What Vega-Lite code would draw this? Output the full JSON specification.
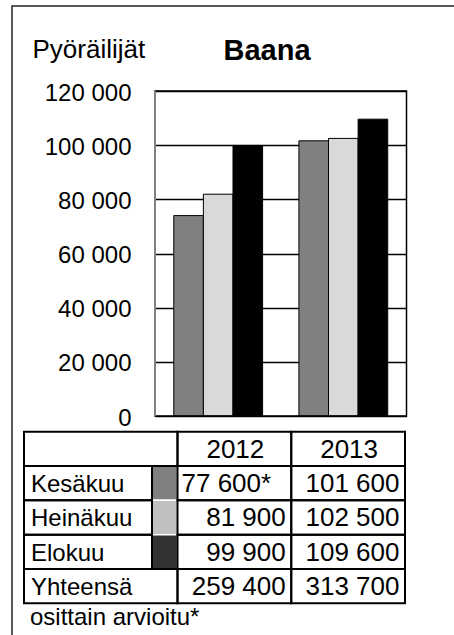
{
  "$schema": "https://vega.github.io/schema/vega-lite/v6.json",
  "width": 442,
  "height": 629,
  "autosize": {"type": "none"},
  "padding": {"left": 12, "top": 6, "right": 0, "bottom": 0},
  "background": "white",
  "title": {"text": "Baana", "anchor": "middle", "frame": "group", "offset": 0, "dx": 34, "dy": 84, "baseline": "alphabetic", "fontSize": 29, "fontWeight": "bold", "color": "black", "font": "Liberation Sans"},
  "datasets": {
    "bars": [
      {"year": "2012", "month": "Kesäkuu", "value": 74000},
      {"year": "2012", "month": "Heinäkuu", "value": 81900},
      {"year": "2012", "month": "Elokuu", "value": 99900},
      {"year": "2013", "month": "Kesäkuu", "value": 101600},
      {"year": "2013", "month": "Heinäkuu", "value": 102500},
      {"year": "2013", "month": "Elokuu", "value": 109600}
    ],
    "rows": [{"row": "head"}, {"row": "Kesäkuu"}, {"row": "Heinäkuu"}, {"row": "Elokuu"}, {"row": "Yhteensä"}],
    "cells": [
      {"row": "head", "year": "2012", "text": "2012"},
      {"row": "head", "year": "2013", "text": "2013"},
      {"row": "Kesäkuu", "year": "2012", "text": "77 600*"},
      {"row": "Kesäkuu", "year": "2013", "text": "101 600"},
      {"row": "Heinäkuu", "year": "2012", "text": "81 900"},
      {"row": "Heinäkuu", "year": "2013", "text": "102 500"},
      {"row": "Elokuu", "year": "2012", "text": "99 900"},
      {"row": "Elokuu", "year": "2013", "text": "109 600"},
      {"row": "Yhteensä", "year": "2012", "text": "259 400"},
      {"row": "Yhteensä", "year": "2013", "text": "313 700"}
    ],
    "notes": [{"row": "note", "text": "osittain arvioitu*"}],
    "frame": [{"id": 1}]
  },
  "layer": [
    {
      "data": {"name": "frame"},
      "mark": {"type": "rect", "filled": false, "stroke": "#222222", "strokeWidth": 1.5},
      "encoding": {
        "x": {"datum": 0, "type": "quantitative", "scale": {"domain": [0, 1], "range": [0, 470], "nice": false}, "axis": null},
        "x2": {"datum": 1},
        "y": {"datum": 0, "type": "quantitative", "scale": {"domain": [0, 1], "range": [0, 660], "nice": false}, "axis": null},
        "y2": {"datum": 1}
      }
    },
    {
      "data": {"name": "bars"},
      "mark": {"type": "bar", "stroke": "black", "strokeWidth": 1},
      "encoding": {
        "x": {"field": "year", "type": "nominal", "scale": {"range": [143, 394.5], "paddingInner": 0.29, "paddingOuter": 0.15}, "axis": null},
        "xOffset": {"field": "month", "type": "nominal", "sort": ["Kesäkuu", "Heinäkuu", "Elokuu"], "scale": {"paddingInner": 0, "paddingOuter": 0}},
        "y": {
          "field": "value", "type": "quantitative",
          "scale": {"domain": [0, 120000], "range": [410, 85], "nice": false, "zero": true},
          "axis": {
            "orient": "left", "offset": -143,
            "values": [0, 20000, 40000, 60000, 80000, 100000, 120000],
            "labelExpr": "replace(format(datum.value, ',d'), ',', ' ')",
            "grid": true, "gridColor": "black", "gridWidth": 1.5, "gridOpacity": 1,
            "domain": false, "ticks": false,
            "labelFontSize": 24, "labelColor": "black", "labelPadding": 24, "labelFlush": false, "labelOverlap": false, "labelFont": "Liberation Sans", "labelOffset": 2,
            "title": "Pyöräilijät", "titleAngle": 0, "titleX": -123, "titleY": 51, "titleAlign": "left", "titleBaseline": "alphabetic",
            "titleFontSize": 26, "titleFontWeight": "normal", "titleColor": "black", "titleFont": "Liberation Sans"
          }
        },
        "color": {"field": "month", "type": "nominal", "scale": {"domain": ["Kesäkuu", "Heinäkuu", "Elokuu"], "range": ["#808080", "#d9d9d9", "#000000"]}, "legend": null}
      }
    },
    {
      "data": {"name": "frame"},
      "mark": {"type": "rect", "filled": false, "stroke": "black", "strokeWidth": 1.5},
      "encoding": {
        "x": {"datum": 0, "type": "quantitative", "scale": {"domain": [0, 1], "range": [143, 394.5], "nice": false}, "axis": null},
        "x2": {"datum": 1},
        "y": {"datum": 0, "type": "quantitative", "scale": {"domain": [0, 1], "range": [410, 85], "nice": false}, "axis": null},
        "y2": {"datum": 1}
      }
    },
    {
      "data": {"name": "frame"},
      "mark": {"type": "rule", "stroke": "#808080", "strokeWidth": 2},
      "encoding": {
        "x": {"datum": 0, "type": "quantitative", "scale": {"domain": [0, 1], "range": [143, 394.5], "nice": false}, "axis": null},
        "y": {"datum": 0, "type": "quantitative", "scale": {"domain": [0, 1], "range": [410, 85], "nice": false}, "axis": null},
        "y2": {"datum": 1}
      }
    },
    {
      "data": {"name": "rows"},
      "transform": [{"filter": {"field": "row", "oneOf": ["Kesäkuu", "Heinäkuu", "Elokuu"]}}],
      "mark": {"type": "rect", "stroke": "white", "strokeWidth": 1.5},
      "encoding": {
        "x": {"datum": "swatch", "type": "nominal", "scale": {"type": "band", "domain": ["swatch"], "range": [140, 165.5], "paddingInner": 0, "paddingOuter": 0}, "axis": null},
        "y": {"field": "row", "type": "nominal", "scale": {"type": "band", "domain": ["head", "Kesäkuu", "Heinäkuu", "Elokuu", "Yhteensä", "note"], "range": [425.7, 631.6], "paddingInner": 0, "paddingOuter": 0}, "axis": null},
        "fill": {"field": "row", "type": "nominal", "scale": {"domain": ["Kesäkuu", "Heinäkuu", "Elokuu"], "range": ["#808080", "#c0c0c0", "#333333"]}, "legend": null}
      }
    },
    {
      "data": {"name": "rows"},
      "transform": [{"filter": {"field": "row", "oneOf": ["Kesäkuu", "Heinäkuu", "Elokuu"]}}],
      "mark": {"type": "rect", "filled": false, "stroke": "black", "strokeWidth": 2},
      "encoding": {
        "x": {"datum": "label", "type": "nominal", "scale": {"type": "band", "domain": ["label"], "range": [12, 140], "paddingInner": 0, "paddingOuter": 0}, "axis": null},
        "y": {"field": "row", "type": "nominal", "scale": {"type": "band", "domain": ["head", "Kesäkuu", "Heinäkuu", "Elokuu", "Yhteensä", "note"], "range": [425.7, 631.6], "paddingInner": 0, "paddingOuter": 0}, "axis": null}
      }
    },
    {
      "data": {"name": "rows"},
      "transform": [{"filter": {"field": "row", "oneOf": ["head", "Yhteensä"]}}],
      "mark": {"type": "rect", "filled": false, "stroke": "black", "strokeWidth": 2},
      "encoding": {
        "x": {"datum": "label", "type": "nominal", "scale": {"type": "band", "domain": ["label"], "range": [12, 165.5], "paddingInner": 0, "paddingOuter": 0}, "axis": null},
        "y": {"field": "row", "type": "nominal", "scale": {"type": "band", "domain": ["head", "Kesäkuu", "Heinäkuu", "Elokuu", "Yhteensä", "note"], "range": [425.7, 631.6], "paddingInner": 0, "paddingOuter": 0}, "axis": null}
      }
    },
    {
      "data": {"name": "cells"},
      "mark": {"type": "rect", "filled": false, "stroke": "black", "strokeWidth": 2},
      "encoding": {
        "x": {"field": "year", "type": "nominal", "scale": {"type": "band", "domain": ["2012", "2013"], "range": [165.5, 393], "paddingInner": 0, "paddingOuter": 0}, "axis": null},
        "y": {"field": "row", "type": "nominal", "scale": {"type": "band", "domain": ["head", "Kesäkuu", "Heinäkuu", "Elokuu", "Yhteensä", "note"], "range": [425.7, 631.6], "paddingInner": 0, "paddingOuter": 0}, "axis": null}
      }
    },
    {
      "data": {"name": "rows"},
      "transform": [{"filter": "datum.row !== 'head'"}],
      "mark": {"type": "text", "align": "left", "baseline": "alphabetic", "dx": 7, "dy": 9, "fontSize": 24, "font": "Liberation Sans", "fill": "black"},
      "encoding": {
        "x": {"datum": "label", "type": "nominal", "bandPosition": 0, "scale": {"type": "band", "domain": ["label"], "range": [12, 140], "paddingInner": 0, "paddingOuter": 0}, "axis": null},
        "y": {"field": "row", "type": "nominal", "bandPosition": 0.5, "scale": {"type": "band", "domain": ["head", "Kesäkuu", "Heinäkuu", "Elokuu", "Yhteensä", "note"], "range": [425.7, 631.6], "paddingInner": 0, "paddingOuter": 0}, "axis": null},
        "text": {"field": "row"}
      }
    },
    {
      "data": {"name": "cells"},
      "transform": [{"filter": "datum.row === 'head'"}],
      "mark": {"type": "text", "align": "center", "baseline": "alphabetic", "dx": 1, "dy": 9, "fontSize": 26, "font": "Liberation Sans", "fill": "black"},
      "encoding": {
        "x": {"field": "year", "type": "nominal", "bandPosition": 0.5, "scale": {"type": "band", "domain": ["2012", "2013"], "range": [165.5, 393], "paddingInner": 0, "paddingOuter": 0}, "axis": null},
        "y": {"field": "row", "type": "nominal", "bandPosition": 0.5, "scale": {"type": "band", "domain": ["head", "Kesäkuu", "Heinäkuu", "Elokuu", "Yhteensä", "note"], "range": [425.7, 631.6], "paddingInner": 0, "paddingOuter": 0}, "axis": null},
        "text": {"field": "text"}
      }
    },
    {
      "data": {"name": "cells"},
      "transform": [{"filter": "datum.row !== 'head' && indexof(datum.text, '*') < 0"}],
      "mark": {"type": "text", "align": "right", "baseline": "alphabetic", "dx": -5.5, "dy": 9, "fontSize": 26, "font": "Liberation Sans", "fill": "black"},
      "encoding": {
        "x": {"field": "year", "type": "nominal", "bandPosition": 1, "scale": {"type": "band", "domain": ["2012", "2013"], "range": [165.5, 393], "paddingInner": 0, "paddingOuter": 0}, "axis": null},
        "y": {"field": "row", "type": "nominal", "bandPosition": 0.5, "scale": {"type": "band", "domain": ["head", "Kesäkuu", "Heinäkuu", "Elokuu", "Yhteensä", "note"], "range": [425.7, 631.6], "paddingInner": 0, "paddingOuter": 0}, "axis": null},
        "text": {"field": "text"}
      }
    },
    {
      "data": {"name": "cells"},
      "transform": [{"filter": "datum.row !== 'head' && indexof(datum.text, '*') >= 0"}],
      "mark": {"type": "text", "align": "left", "baseline": "alphabetic", "dx": 4, "dy": 9, "fontSize": 26, "font": "Liberation Sans", "fill": "black"},
      "encoding": {
        "x": {"field": "year", "type": "nominal", "bandPosition": 0, "scale": {"type": "band", "domain": ["2012", "2013"], "range": [165.5, 393], "paddingInner": 0, "paddingOuter": 0}, "axis": null},
        "y": {"field": "row", "type": "nominal", "bandPosition": 0.5, "scale": {"type": "band", "domain": ["head", "Kesäkuu", "Heinäkuu", "Elokuu", "Yhteensä", "note"], "range": [425.7, 631.6], "paddingInner": 0, "paddingOuter": 0}, "axis": null},
        "text": {"field": "text"}
      }
    },
    {
      "data": {"name": "notes"},
      "mark": {"type": "text", "align": "left", "baseline": "alphabetic", "dx": 6, "dy": 5, "fontSize": 24, "font": "Liberation Sans", "fill": "black"},
      "encoding": {
        "x": {"datum": "label", "type": "nominal", "bandPosition": 0, "scale": {"type": "band", "domain": ["label"], "range": [12, 140], "paddingInner": 0, "paddingOuter": 0}, "axis": null},
        "y": {"field": "row", "type": "nominal", "bandPosition": 0.5, "scale": {"type": "band", "domain": ["head", "Kesäkuu", "Heinäkuu", "Elokuu", "Yhteensä", "note"], "range": [425.7, 631.6], "paddingInner": 0, "paddingOuter": 0}, "axis": null},
        "text": {"field": "text"}
      }
    }
  ],
  "resolve": {"scale": {"x": "independent", "y": "independent", "color": "independent", "fill": "independent"}},
  "config": {"font": "Liberation Sans", "view": {"stroke": null}}
}
